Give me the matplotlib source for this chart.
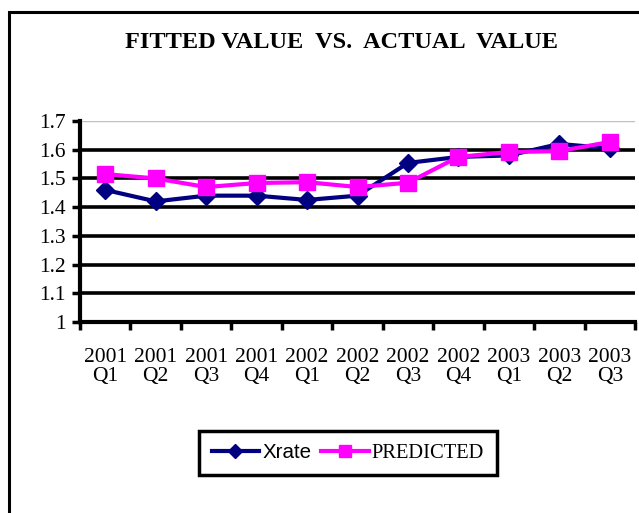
import numpy as np
import matplotlib.pyplot as plt
from matplotlib.patches import Rectangle
from matplotlib.lines import Line2D

quarters = ["2001\nQ1", "2001\nQ2", "2001\nQ3", "2001\nQ4", "2002\nQ1", "2002\nQ2",
            "2002\nQ3", "2002\nQ4", "2003\nQ1", "2003\nQ2", "2003\nQ3"]
xrate = [1.46, 1.42, 1.44, 1.44, 1.425, 1.44, 1.554, 1.575, 1.58, 1.62, 1.605]
predicted = [1.515, 1.50, 1.47, 1.484, 1.487, 1.47, 1.485, 1.575, 1.592, 1.595, 1.627]
yticks = [1.0, 1.1, 1.2, 1.3, 1.4, 1.5, 1.6, 1.7]
ytick_labels = ["1", "1.1", "1.2", "1.3", "1.4", "1.5", "1.6", "1.7"]

plt.rcParams['font.family'] = 'Liberation Serif'

fig = plt.figure(figsize=(6.39, 5.13), dpi=100)
# outer chart border (runs off right and bottom edges)
fig.patches.append(Rectangle((9 / 639, -0.05), 1.1, 1 - 12 / 513 + 0.05,
                             transform=fig.transFigure, fill=False,
                             edgecolor='black', linewidth=2.2))

ax = fig.add_axes([80 / 639, 191 / 513, 555 / 639, 201 / 513])
x = np.arange(len(quarters))

for y in yticks[1:-1]:
    ax.axhline(y, color='black', linewidth=2.6, zorder=1)
ax.axhline(1.7, color='#c0c0c0', linewidth=1, zorder=1)

ax.plot(x, xrate, color='#000080', linewidth=3, marker='D', markersize=9,
        label='Xrate', zorder=3)
ax.plot(x, predicted, color='#ff00ff', linewidth=3, marker='s', markersize=12,
        label='PREDICTED', zorder=4)

ax.set_xlim(-0.5, len(quarters) - 0.5)
ax.set_ylim(1.0, 1.7)
ax.set_yticks(yticks)
ax.set_yticklabels(ytick_labels, fontsize=15.5)
ax.set_xticks(x)
ax.set_xticklabels(quarters, fontsize=15.5, linespacing=1.0)
ax.set_xticks(np.arange(len(quarters) + 1) - 0.5, minor=True)
ax.tick_params(axis='x', which='major', length=0, pad=19)
ax.tick_params(axis='x', which='minor', length=6, width=2.5, direction='out')
ax.tick_params(axis='y', length=6, width=2.5, direction='out', pad=4)

for side in ['top', 'right']:
    ax.spines[side].set_visible(False)
ax.spines['left'].set_linewidth(3)
ax.spines['bottom'].set_linewidth(3)

handles = [Line2D([], [], color='#000080', linewidth=3, marker='D', markersize=7),
           Line2D([], [], color='#ff00ff', linewidth=3, marker='s', markersize=9)]
leg = fig.legend(handles, ['Xrate', 'PREDICTED'], loc='center',
                 bbox_to_anchor=(348 / 639, 1 - 453 / 513), ncol=2,
                 fontsize=14.8, frameon=True, fancybox=False, framealpha=1,
                 handlelength=2.3, handletextpad=0.15, columnspacing=0.5,
                 borderpad=0.6, borderaxespad=0)
leg.get_frame().set_edgecolor('black')
leg.get_frame().set_linewidth(2.5)
leg.get_texts()[0].set_family('Liberation Sans')

fig.text(342 / 639, 1 - 42 / 513, "FITTED VALUE  VS.  ACTUAL  VALUE",
         ha='center', va='center', fontsize=17.5, fontweight='bold')

fig.savefig('out.png', dpi=100)
